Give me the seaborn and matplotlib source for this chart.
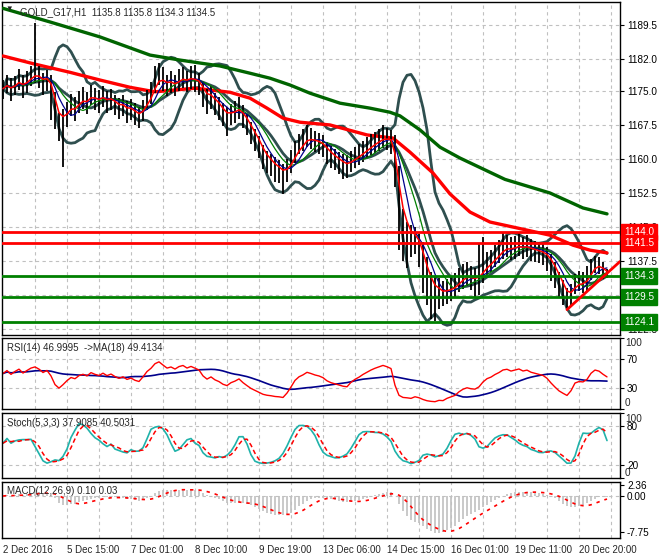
import matplotlib
matplotlib.use("Agg")
import matplotlib.pyplot as plt
import matplotlib.transforms as mtransforms
import pandas as pd
import seaborn as sns

# GOLD_G17 bars (one bar every 4 px)
closes = [
    1175.5, 1176.8, 1175.2, 1176.5, 1177.6, 1176.0, 1177.2, 1178.4, 1179.0, 1178.2,
    1176.9, 1177.8, 1175.5, 1170.2, 1167.0, 1168.5, 1170.4, 1172.0, 1171.2, 1172.8,
    1173.5, 1172.6, 1174.3, 1173.4, 1172.8, 1173.9, 1172.7, 1173.4, 1172.2, 1171.3,
    1171.9, 1170.6, 1171.1, 1170.0, 1169.4, 1171.0, 1173.2, 1174.8, 1177.5, 1178.8,
    1177.6, 1176.4, 1177.0, 1176.2, 1177.5, 1178.1, 1177.2, 1178.0, 1177.4, 1176.8,
    1174.5, 1173.0, 1173.8, 1172.4, 1171.5, 1170.0, 1169.2, 1170.1, 1170.6, 1171.3,
    1169.5, 1167.8, 1165.9, 1164.4, 1162.8, 1160.6, 1159.5, 1158.9, 1158.0, 1157.6,
    1156.8, 1157.9, 1159.6, 1161.8, 1163.2, 1164.0, 1165.1, 1164.6, 1164.0, 1163.6,
    1162.9, 1161.5, 1160.6, 1160.0, 1159.4, 1158.8, 1158.5, 1159.6, 1160.4, 1161.0,
    1161.8, 1162.5, 1163.2, 1163.8, 1164.3, 1164.8, 1164.5, 1164.1, 1158.0, 1148.0,
    1144.0, 1143.2, 1142.0, 1142.6, 1140.8, 1137.0, 1133.5, 1131.5, 1130.4, 1130.9,
    1130.2, 1131.0, 1131.5, 1132.0, 1133.2, 1134.1, 1134.6, 1133.8, 1133.5, 1134.2,
    1135.8, 1137.0, 1137.6, 1138.6, 1139.4, 1140.5, 1140.8, 1140.2, 1140.6, 1141.0,
    1140.4, 1140.7, 1140.1, 1139.8, 1139.5, 1139.2, 1138.4, 1136.8, 1135.0, 1132.8,
    1131.0, 1129.0, 1130.2, 1132.5, 1133.0, 1132.8, 1133.6, 1135.8, 1137.2, 1136.8,
    1135.6, 1134.5,
]
highs = [
    1177.5, 1178.6, 1177.8, 1178.2, 1179.8, 1178.5, 1179.4, 1180.5, 1190.0, 1180.6,
    1179.0, 1179.6, 1178.4, 1174.8, 1170.2, 1171.0, 1172.5, 1174.3, 1173.6, 1175.0,
    1175.8, 1174.8, 1176.4, 1175.6, 1175.2, 1176.0, 1175.0, 1175.4, 1174.2, 1173.5,
    1174.0, 1172.8, 1173.2, 1172.3, 1171.5, 1173.0, 1175.1, 1176.9, 1180.5, 1181.2,
    1180.2, 1178.6, 1179.3, 1178.5, 1179.8, 1180.3, 1179.5, 1180.4, 1180.7, 1178.9,
    1177.0, 1175.4, 1176.0, 1174.6, 1173.6, 1172.3, 1171.5, 1172.2, 1172.8, 1173.6,
    1171.8, 1170.0, 1168.2, 1166.6, 1165.0, 1163.0, 1161.8, 1161.2, 1160.4, 1159.8,
    1159.0, 1160.1, 1161.9, 1163.9, 1165.5, 1166.6, 1167.5, 1166.8, 1166.2, 1165.8,
    1165.2, 1163.8, 1162.8, 1162.3, 1161.6, 1161.0, 1160.8, 1161.8, 1162.6, 1163.2,
    1164.0, 1164.8, 1165.4, 1166.0, 1166.5, 1167.4, 1166.8, 1166.4, 1165.2, 1158.5,
    1149.0, 1146.0, 1145.5, 1145.0, 1143.5, 1141.8, 1138.5, 1135.0, 1134.0, 1133.8,
    1133.0, 1133.6, 1134.0, 1134.8, 1136.0, 1136.8, 1137.2, 1136.5, 1136.0, 1141.5,
    1142.8, 1139.5, 1140.0, 1141.0, 1142.2, 1143.7, 1143.2, 1142.8, 1143.0, 1143.8,
    1142.8, 1143.2, 1142.4, 1142.0, 1141.6, 1141.2, 1140.5, 1139.0, 1137.4, 1135.0,
    1133.4, 1131.5, 1132.4, 1134.6, 1135.4, 1135.0, 1136.5, 1138.0, 1138.6, 1138.4,
    1137.4, 1135.8,
]
lows = [
    1173.2, 1174.5, 1172.8, 1174.0, 1175.2, 1173.5, 1174.6, 1176.0, 1176.8, 1175.6,
    1174.2, 1175.0, 1168.5, 1166.5, 1164.0, 1158.2, 1167.0, 1169.5, 1168.4, 1170.2,
    1171.0, 1170.0, 1171.8, 1170.8, 1170.2, 1171.5, 1170.2, 1170.8, 1169.8, 1168.8,
    1169.5, 1168.0, 1168.6, 1167.4, 1166.8, 1168.4, 1170.8, 1172.2, 1174.6, 1176.2,
    1175.0, 1173.8, 1174.6, 1173.8, 1175.0, 1175.6, 1174.8, 1175.4, 1174.8, 1174.0,
    1171.4, 1170.0, 1171.0, 1169.8, 1168.6, 1167.2, 1165.0, 1167.4, 1168.0, 1168.8,
    1166.8, 1165.2, 1163.2, 1161.8, 1160.2, 1157.8, 1156.8, 1156.2, 1155.0, 1154.6,
    1152.2, 1155.0, 1157.0, 1159.2, 1161.0, 1161.8, 1162.6, 1162.2, 1161.6, 1161.2,
    1160.4, 1159.0, 1158.0, 1157.6, 1156.6, 1155.6, 1155.8, 1157.2, 1158.0, 1158.6,
    1159.4, 1160.2, 1160.8, 1161.4, 1161.8, 1162.4, 1162.0, 1161.0, 1153.8, 1140.0,
    1137.5, 1136.0, 1138.4, 1139.0, 1136.2, 1130.5, 1127.8, 1124.8, 1124.2, 1127.0,
    1127.5, 1128.0, 1128.6, 1129.4, 1130.6, 1131.4, 1132.0, 1131.2, 1129.4, 1130.0,
    1132.6, 1134.4, 1135.0, 1136.2, 1137.0, 1138.0, 1138.4, 1137.8, 1138.0, 1138.6,
    1138.0, 1138.4, 1137.6, 1137.4, 1137.0, 1136.6, 1135.4, 1133.0, 1131.6, 1129.6,
    1127.8, 1127.2, 1127.8, 1130.2, 1130.8, 1130.4, 1131.0, 1133.4, 1134.8, 1134.6,
    1133.6, 1133.8,
]

# slow moving averages (bar index, price)
ma_red_bar = [0, 8, 16.75, 24.25, 31.75, 38, 43, 48, 56.75, 61.75, 66, 70, 74.25,
              81.75, 91, 97.5, 101.75, 107.5, 111.75, 116.75, 121.75, 128.5,
              136.75, 142.5, 146.75, 151]
ma_red_val = [1182.7, 1180.9, 1179.1, 1177.4, 1175.8, 1174.8, 1175.2, 1175.6,
              1174.7, 1173.4, 1171.2, 1169.0, 1168.1, 1167.5, 1165.3, 1164.6,
              1161.5, 1156.9, 1152.3, 1148.3, 1146.1, 1144.8, 1143.2, 1141.0,
              1139.9, 1139.3]
ma_green_bar = [0, 11.75, 24.25, 36.75, 44.25, 54.25, 61.75, 66.75, 71.75, 76.75,
                84.25, 91.75, 96.75, 99.25, 104.25, 109.25, 114.25, 125.5, 136.75,
                145, 151]
ma_green_val = [1193.2, 1190.2, 1186.9, 1182.9, 1181.8, 1180.5, 1178.9, 1177.8,
                1176.3, 1174.5, 1172.3, 1171.2, 1170.3, 1169.5, 1166.4, 1162.6,
                1160.2, 1155.5, 1152.5, 1149.2, 1147.9]

resistance_levels = [1144.0, 1141.5]
support_levels = [1134.3, 1129.5, 1124.1]
trend_bar = [141.0, 154.25]
trend_price = [1126.8, 1137.4]

price_ticks = [1189.5, 1182.0, 1175.0, 1167.5, 1160.0, 1152.5, 1145.0, 1137.5, 1130.0, 1122.5]
date_ticks = [0, 16, 32, 48, 64, 80, 96, 112, 128, 144]
date_labels = ["2 Dec 2016", "5 Dec 15:00", "7 Dec 01:00", "8 Dec 10:00", "9 Dec 19:00",
               "13 Dec 06:00", "14 Dec 15:00", "16 Dec 01:00", "19 Dec 11:00", "20 Dec 20:00"]

sns.set_style("white")
plt.rcParams["font.family"] = ["Liberation Sans", "DejaVu Sans"]

df = pd.DataFrame({"close": closes, "high": highs, "low": lows})
df["bar"] = range(len(df))

# indicators from the bars
df["ma_fast"] = df["close"].ewm(span=3, adjust=False).mean()
df["ma_mid"] = df["close"].rolling(5, min_periods=1).mean()
df["ma_slow"] = df["close"].rolling(8, min_periods=1).mean()
bb_mid = df["close"].rolling(10, min_periods=1).mean()
bb_sd = df["close"].rolling(10, min_periods=2).std(ddof=0).fillna(0)
df["bb_mid"] = bb_mid
df["bb_up"] = bb_mid + 2.4 * bb_sd
df["bb_dn"] = bb_mid - 2.4 * bb_sd

delta = df["close"].diff().fillna(0)
up = delta.clip(lower=0)
dn = -delta.clip(upper=0)
seed = delta.abs().iloc[1:11].mean() / 2
up.iloc[0] = seed
dn.iloc[0] = seed
gain = up.ewm(alpha=1 / 13, adjust=False).mean()
loss = dn.ewm(alpha=1 / 13, adjust=False).mean()
df["rsi"] = 100 * gain / (gain + loss)
df["rsi_ma"] = df["rsi"].rolling(18, min_periods=1).mean()

hh = df["high"].rolling(5, min_periods=1).max()
ll = df["low"].rolling(5, min_periods=1).min()
num = (df["close"] - ll).rolling(3, min_periods=1).sum()
den = (hh - ll).rolling(3, min_periods=1).sum()
df["stoch_k"] = 100 * num / den
df["stoch_d"] = df["stoch_k"].rolling(3, min_periods=1).mean()

ema_fast = df["close"].ewm(span=8, adjust=False).mean()
ema_slow = df["close"].ewm(span=18, adjust=False).mean()
df["macd"] = ema_fast - ema_slow
df["macd_sig"] = df["macd"].rolling(6, min_periods=1).mean()

W, H = 660, 560
fig = plt.figure(figsize=(W / 100, H / 100), dpi=100)


def panel(top, bottom):
    return fig.add_axes([2 / W, 1 - bottom / H, 618 / W, (bottom - top) / H])


ax = panel(2, 335)
ax_rsi = panel(338, 409)
ax_st = panel(413, 478)
ax_macd = panel(482, 538)
axes = [ax, ax_rsi, ax_st, ax_macd]

grid_kw = dict(color="#c0c0c0", lw=0.8, ls=(0, (3, 3)), zorder=0)
for a in axes:
    a.set_xlim(-0.25, 154.25)
    for s in a.spines.values():
        s.set_color("black")
        s.set_linewidth(1)
    for b in range(8, 155, 8):
        a.axvline(b, **grid_kw)
    a.yaxis.tick_right()
    a.tick_params(axis="y", length=3, width=0.8, pad=2, labelsize=7.2, colors="black")
    a.tick_params(axis="x", length=0)
    a.set_xticklabels([])


def edge_label(a, text, frac):
    a.text(1 + 5 / 618, frac, text, transform=a.transAxes, fontsize=7.2,
           va="center", ha="left", clip_on=False)


# ---- main price window
ax.set_ylim(1121.2, 1194.6)
ax.set_yticks(price_ticks)
ax.set_yticklabels([f"{v:.1f}" for v in price_ticks])
for v in price_ticks:
    ax.axhline(v, **grid_kw)

for col in ["bb_up", "bb_mid", "bb_dn"]:
    sns.lineplot(data=df, x="bar", y=col, ax=ax, color="#2f4f4f", lw=2, sort=False,
                 estimator=None, zorder=2)
sns.lineplot(x=ma_green_bar, y=ma_green_val, ax=ax, color="#006400", lw=2.4,
             estimator=None, sort=False, zorder=3)
sns.lineplot(x=ma_red_bar, y=ma_red_val, ax=ax, color="#ff0000", lw=2.4,
             estimator=None, sort=False, zorder=3)
ax.vlines(df["bar"], df["low"], df["high"], color="black", lw=1.3, zorder=4)
sns.lineplot(data=df, x="bar", y="ma_slow", ax=ax, color="#008000", lw=0.9,
             estimator=None, sort=False, zorder=5)
sns.lineplot(data=df, x="bar", y="ma_mid", ax=ax, color="#00008b", lw=0.9,
             estimator=None, sort=False, zorder=5)
sns.lineplot(data=df, x="bar", y="ma_fast", ax=ax, color="#ff0000", lw=1.1,
             estimator=None, sort=False, zorder=5)

trans = mtransforms.blended_transform_factory(ax.transAxes, ax.transData)
for levels, colour in [(resistance_levels, "#ff0000"), (support_levels, "#008000")]:
    for lvl in levels:
        ax.axhline(lvl, color=colour, lw=2, zorder=6)
        ax.text(1.0065, lvl, f"{lvl:.1f}", transform=trans, color="white", fontsize=7.2,
                va="center", ha="left", clip_on=False, zorder=10,
                bbox=dict(boxstyle="square,pad=0.3", fc=colour, ec=colour))
sns.lineplot(x=trend_bar, y=trend_price, ax=ax, color="#ff0000", lw=2,
             estimator=None, sort=False, zorder=6)

ax.text(0.006, 0.988, "\u25bc", transform=ax.transAxes, fontsize=5.5, va="top",
        ha="left", color="#202020")
ax.text(0.029, 0.985, "GOLD_G17,H1  1135.8 1135.8 1134.3 1134.5",
        transform=ax.transAxes, fontsize=7, va="top", ha="left")

# ---- RSI
ax_rsi.set_ylim(0, 100)
ax_rsi.set_yticks([0, 30, 70, 100])
ax_rsi.set_yticklabels(["", "30", "70", ""])
edge_label(ax_rsi, "100", 0.93)
edge_label(ax_rsi, "0", 0.085)
for v in (30, 70):
    ax_rsi.axhline(v, **grid_kw)
sns.lineplot(data=df, x="bar", y="rsi_ma", ax=ax_rsi, color="#00008b", lw=1.2,
             estimator=None, sort=False)
sns.lineplot(data=df, x="bar", y="rsi", ax=ax_rsi, color="#ff0000", lw=1,
             estimator=None, sort=False)
ax_rsi.text(0.008, 0.93, "RSI(14) 46.9995  ->MA(18) 49.4134", transform=ax_rsi.transAxes,
            fontsize=7, va="top", ha="left")

# ---- Stochastic
ax_st.set_ylim(0, 100)
ax_st.set_yticks([0, 20, 80, 100])
ax_st.set_yticklabels(["", "20", "80", ""])
edge_label(ax_st, "100", 0.908)
edge_label(ax_st, "0", 0.077)
for v in (20, 80):
    ax_st.axhline(v, **grid_kw)
sns.lineplot(data=df, x="bar", y="stoch_k", ax=ax_st, color="#20b2aa", lw=1.2,
             estimator=None, sort=False)
sns.lineplot(data=df, x="bar", y="stoch_d", ax=ax_st, color="#ff0000", lw=1.1,
             estimator=None, sort=False, ls=(0, (3, 2)))
ax_st.text(0.008, 0.93, "Stoch(5,3,3) 37.9085 40.5031", transform=ax_st.transAxes,
           fontsize=7, va="top", ha="left")

# ---- MACD
ax_macd.set_ylim(-9.04, 3.01)
ax_macd.set_yticks([2.36, 0.0, -7.75])
ax_macd.set_yticklabels(["2.36", "0.00", "-7.75"])
ax_macd.axhline(0, **grid_kw)
ax_macd.vlines(df["bar"], 0, df["macd"], color="#c0c0c0", lw=1.2, zorder=2)
sns.lineplot(data=df, x="bar", y="macd_sig", ax=ax_macd, color="#ff0000", lw=1.2,
             estimator=None, sort=False, ls=(0, (2, 3)), zorder=3)
ax_macd.text(0.008, 0.92, "MACD(12,26,9) 0.10 0.03", transform=ax_macd.transAxes,
             fontsize=7, va="top", ha="left")

ax_macd.set_xticks(date_ticks)
ax_macd.set_xticklabels(date_labels, ha="left")
ax_macd.tick_params(axis="x", length=3, width=0.8, pad=2, labelsize=7)

for a in axes:
    a.set_xlabel("")
    a.set_ylabel("")

fig.savefig("out.png", dpi=100, facecolor="white")
